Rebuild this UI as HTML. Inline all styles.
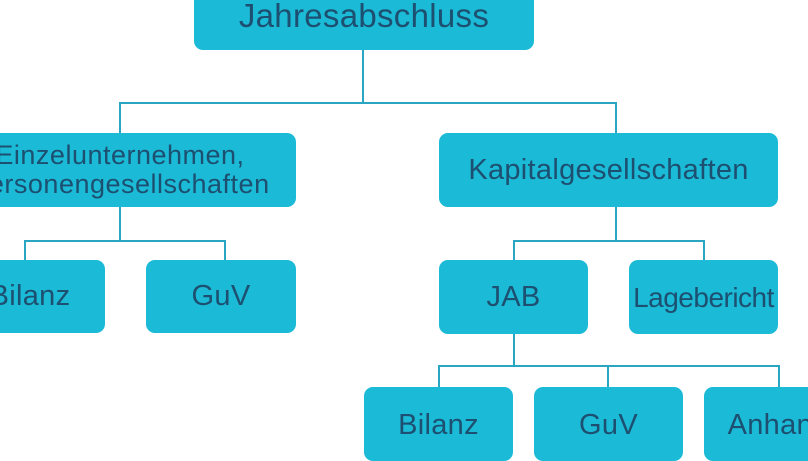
<!DOCTYPE html>
<html><head><style>
body{margin:0;width:808px;height:437px;overflow:hidden;background:#fff;position:relative;font-family:"Liberation Sans",sans-serif}
.b{position:absolute;background:#1bbad7;border-radius:9px;color:#1d4f70;display:flex;align-items:center;justify-content:center;text-align:center;white-space:nowrap;font-size:29px;line-height:29px;letter-spacing:0.3px}
.l{position:absolute;background:#2ba6c2}
</style></head><body>
<div class="b" style="left:194px;top:-30px;width:340px;height:80px;font-size:33px;align-items:flex-end"><span style="position:relative;top:-20px">Jahresabschluss</span></div>
<div class="l" style="left:362px;top:50px;width:2px;height:54px"></div>
<div class="l" style="left:119px;top:102px;width:498px;height:2px"></div>
<div class="l" style="left:119px;top:102px;width:2px;height:32px"></div>
<div class="l" style="left:615px;top:102px;width:2px;height:32px"></div>
<div class="b" style="left:-56px;top:133px;width:352px;height:74px;font-size:27px;letter-spacing:0.5px">Einzelunternehmen,<br>Personengesellschaften</div>
<div class="b" style="left:439px;top:133px;width:339px;height:74px">Kapitalgesellschaften</div>
<div class="l" style="left:119px;top:207px;width:2px;height:34px"></div>
<div class="l" style="left:24px;top:240px;width:202px;height:2px"></div>
<div class="l" style="left:24px;top:240px;width:2px;height:21px"></div>
<div class="l" style="left:224px;top:240px;width:2px;height:21px"></div>
<div class="b" style="left:-45px;top:260px;width:150px;height:73px">Bilanz</div>
<div class="b" style="left:146px;top:260px;width:150px;height:73px">GuV</div>
<div class="l" style="left:615px;top:207px;width:2px;height:34px"></div>
<div class="l" style="left:513px;top:240px;width:192px;height:2px"></div>
<div class="l" style="left:513px;top:240px;width:2px;height:21px"></div>
<div class="l" style="left:703px;top:240px;width:2px;height:21px"></div>
<div class="b" style="left:439px;top:260px;width:149px;height:74px">JAB</div>
<div class="b" style="left:629px;top:260px;width:149px;height:74px;letter-spacing:-0.5px;font-size:28px">Lagebericht</div>
<div class="l" style="left:513px;top:334px;width:2px;height:33px"></div>
<div class="l" style="left:438px;top:365px;width:342px;height:2px"></div>
<div class="l" style="left:438px;top:365px;width:2px;height:23px"></div>
<div class="l" style="left:607px;top:365px;width:2px;height:23px"></div>
<div class="l" style="left:778px;top:365px;width:2px;height:23px"></div>
<div class="b" style="left:364px;top:387px;width:149px;height:74px;align-items:flex-start;padding-top:24px;box-sizing:border-box">Bilanz</div>
<div class="b" style="left:534px;top:387px;width:149px;height:74px;align-items:flex-start;padding-top:24px;box-sizing:border-box">GuV</div>
<div class="b" style="left:704px;top:387px;width:149px;height:74px;align-items:flex-start;padding-top:24px;box-sizing:border-box">Anhang</div>
</body></html>
